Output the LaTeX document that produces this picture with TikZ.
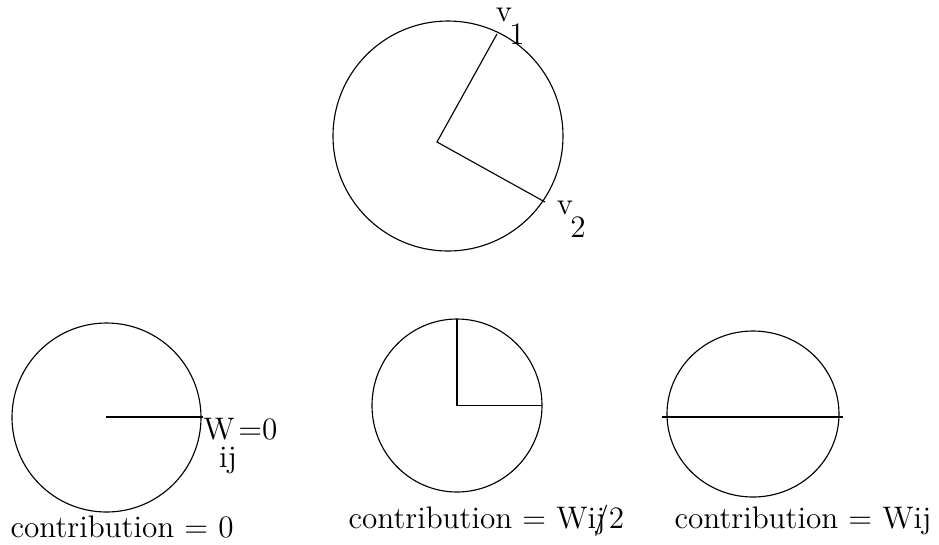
\documentclass[tikz,border=0pt]{standalone}
\begin{document}
\begin{tikzpicture}[x=0.0124cm,y=-0.0124cm,font=\fontsize{11}{13}\selectfont]
\tikzset{lbl/.style={inner sep=0pt},txt/.style={inner sep=0pt,anchor=base west}}
\useasboundingbox (0,0) rectangle (939,544);
% top circle
\draw (448,136) circle [radius=115];
\coordinate (c0) at (437,142);
\coordinate (p1) at (497,34);
\coordinate (p2) at (545,202);
\draw (p1) -- (c0) -- (p2);
\node[lbl] (v1) at (504,15) {v};
\node[lbl] (v1i) at (517,34) {1};
\node[lbl] (v2) at (565,208) {v};
\node[lbl] (v2i) at (578,227) {2};
% left
\draw (106.5,417.5) circle [radius=94.5];
\coordinate (ca) at (106,417);
\coordinate (qa) at (203,417);
\draw (ca) -- (qa);
\node[lbl] (w) at (219,429) {W};
\node[lbl] (wij) at (228,460) {ij};
\node[lbl] (weq) at (258,429) {=0};
\node[txt] (ta) at (10,537) {contribution = 0};
% middle
\draw (457,405.5) ellipse [x radius=85, y radius=86.5];
\coordinate (cb) at (457,405.5);
\coordinate (qb1) at (457,319);
\coordinate (qb2) at (542,405.5);
\draw (qb1) -- (cb) -- (qb2);
\node[txt] (tb) at (348,528) {contribution = Wij};
\node[txt] (tb2) at (593,528) {/2};
% right
\draw (753,414) ellipse [x radius=86, y radius=83];
\coordinate (qc1) at (662,417);
\coordinate (qc2) at (843,417);
\draw (qc1) -- (qc2);
\node[txt] (tc) at (674,528) {contribution = Wij};
\end{tikzpicture}
\end{document}
